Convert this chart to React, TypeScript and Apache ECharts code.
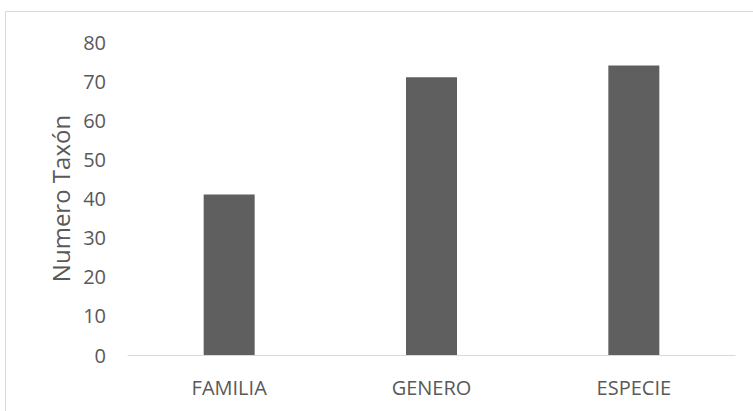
import React, { useEffect, useRef } from "react";
import * as echarts from "echarts";

const categories = ["FAMILIA", "GENERO", "ESPECIE"];
const values = [41, 71, 74];
const yAxisName = "Numero Taxón";

export default function App() {
  const ref = useRef<HTMLDivElement>(null);
  useEffect(() => {
    if (!ref.current) return;
    const chart = echarts.init(ref.current, undefined, { renderer: "svg" });
    chart.setOption({
      animation: false,
      backgroundColor: "#ffffff",
      textStyle: { fontFamily: "Open Sans" },
      graphic: [
        {
          type: "rect",
          shape: { x: 5.5, y: 11.5, width: 800, height: 450 },
          style: { fill: "none", stroke: "#d9d9d9", lineWidth: 1 },
          silent: true,
        },
      ],
      grid: { left: 128, right: 18, top: 42, bottom: 56 },
      xAxis: {
        type: "category",
        data: categories,
        axisLine: { lineStyle: { color: "#d9d9d9", width: 1 } },
        axisTick: { show: false },
        axisLabel: { color: "#595959", fontSize: 20, margin: 22, fontFamily: "Open Sans" },
      },
      yAxis: {
        type: "value",
        min: 0,
        max: 80,
        interval: 10,
        name: yAxisName,
        nameLocation: "middle",
        nameGap: 56,
        nameTextStyle: { color: "#595959", fontSize: 24, fontFamily: "Open Sans" },
        axisLine: { show: false },
        axisTick: { show: false },
        splitLine: { show: false },
        axisLabel: { color: "#595959", fontSize: 20, margin: 22, fontFamily: "Open Sans" },
      },
      series: [
        {
          type: "bar",
          data: values,
          barWidth: 51,
          itemStyle: { color: "#5f5f5f" },
        },
      ],
    });
    return () => chart.dispose();
  }, []);
  return (
    <div
      ref={ref}
      style={{ position: "absolute", left: 0, top: 0, width: 753, height: 411 }}
    />
  );
}
